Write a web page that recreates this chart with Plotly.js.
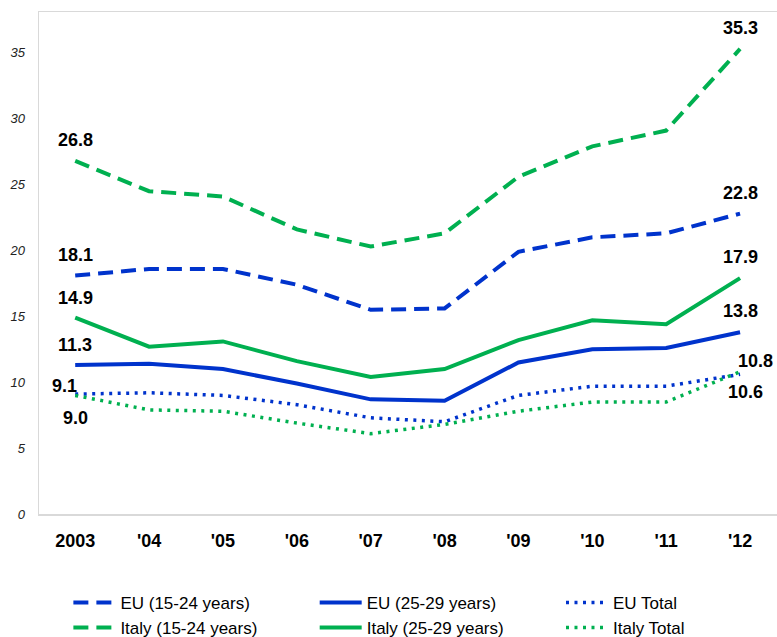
<!DOCTYPE html>
<html lang="en">
<head>
    <meta charset="UTF-8">
    <title>Unemployment rates, EU vs Italy</title>
    <script src="https://cdn.plot.ly/plotly-3.0.1.min.js"></script>
    <style>
        body { margin: 0; background: #ffffff; }
        #chart { width: 777px; height: 637px; }
    </style>
</head>
<body>
    <div id="chart"></div>
    <script>
        // data
        const years = ['2003', "'04", "'05", "'06", "'07", "'08", "'09", "'10", "'11", "'12"];
        const euYouth = [18.1, 18.6, 18.6, 17.4, 15.5, 15.6, 19.9, 21.0, 21.3, 22.8];
        const eu2529 = [11.3, 11.4, 11.0, 9.9, 8.7, 8.6, 11.5, 12.5, 12.6, 13.8];
        const euTotal = [9.1, 9.2, 9.0, 8.3, 7.3, 7.0, 9.0, 9.7, 9.7, 10.6];
        const itYouth = [26.8, 24.5, 24.1, 21.6, 20.3, 21.3, 25.6, 27.9, 29.1, 35.3];
        const it2529 = [14.9, 12.7, 13.1, 11.6, 10.4, 11.0, 13.2, 14.7, 14.4, 17.9];
        const itTotal = [9.0, 7.9, 7.8, 6.9, 6.1, 6.8, 7.8, 8.5, 8.5, 10.8];

        const blue = '#0033cc';
        const green = '#00b050';
        const DASH = '15px,8px';
        const DOT = '3px,5.5px';

        function line(name, y, color, dash, width, legend) {
            return {
                x: years, y: y, name: name, type: 'scatter', mode: 'lines',
                line: { color: color, dash: dash, width: width },
                legend: legend, hoverinfo: 'skip'
            };
        }

        // one legend per column, EU on top row, Italy below
        const traces = [
            line('EU (15-24 years)', euYouth, blue, DASH, 4, 'legend'),
            line('EU (25-29 years)', eu2529, blue, 'solid', 4, 'legend2'),
            line('EU Total', euTotal, blue, DOT, 3.5, 'legend3'),
            line('Italy (15-24 years)', itYouth, green, DASH, 4, 'legend'),
            line('Italy (25-29 years)', it2529, green, 'solid', 4, 'legend2'),
            line('Italy Total', itTotal, green, DOT, 3.5, 'legend3')
        ];

        // value labels at first and last year (category index as x)
        const last = years.length - 1;
        function label(i, v, yshift, xshift) {
            return {
                x: i, y: v, xref: 'x', yref: 'y', text: v.toFixed(1),
                showarrow: false, yshift: yshift, xshift: xshift || 0,
                font: { family: 'Liberation Sans, Arial, sans-serif', size: 18, color: '#000', weight: 'bold' }
            };
        }
        const annotations = [
            label(0, itYouth[0], 21), label(0, euYouth[0], 21),
            label(0, it2529[0], 20), label(0, eu2529[0], 20),
            label(0, euTotal[0], 8, -11), label(0, itTotal[0], -23),
            label(last, itYouth[last], 21), label(last, euYouth[last], 21),
            label(last, it2529[last], 21), label(last, eu2529[last], 21),
            label(last, itTotal[last], 11, 15), label(last, euTotal[last], -18, 5)
        ];

        function legendAt(x) {
            return {
                orientation: 'v', xref: 'container', yref: 'container',
                x: x, y: 0.034, xanchor: 'left', yanchor: 'middle',
                bgcolor: 'rgba(0,0,0,0)', tracegroupgap: 0, itemwidth: 42,
                font: { family: 'Liberation Sans, Arial, sans-serif', size: 17, color: '#000' }
            };
        }

        const layout = {
            width: 777, height: 637,
            margin: { l: 39, r: 0, t: 12, b: 123, autoexpand: false },
            paper_bgcolor: '#ffffff', plot_bgcolor: '#ffffff',
            showlegend: true,
            legend: legendAt(0.088),
            legend2: legendAt(0.405),
            legend3: legendAt(0.722),
            xaxis: {
                type: 'category', range: [-0.49, 9.5], automargin: false,
                showline: true, linecolor: '#d9d9d9', linewidth: 1.5, mirror: true,
                showgrid: false, zeroline: false,
                ticks: 'outside', ticklen: 10, tickcolor: 'rgba(0,0,0,0)',
                tickfont: { family: 'Liberation Sans, Arial, sans-serif', size: 18, color: '#000', weight: 'bold' }
            },
            yaxis: {
                range: [0, 38.1], dtick: 5, automargin: false,
                showline: true, linecolor: '#d9d9d9', linewidth: 1.5,
                showgrid: false, zeroline: false,
                ticks: 'outside', ticklen: 10, tickcolor: 'rgba(0,0,0,0)',
                tickfont: { family: 'Liberation Sans, Arial, sans-serif', size: 13, color: '#222', style: 'italic' }
            },
            annotations: annotations
        };

        Plotly.newPlot('chart', traces, layout, { displayModeBar: false, staticPlot: true });
    </script>
</body>
</html>
